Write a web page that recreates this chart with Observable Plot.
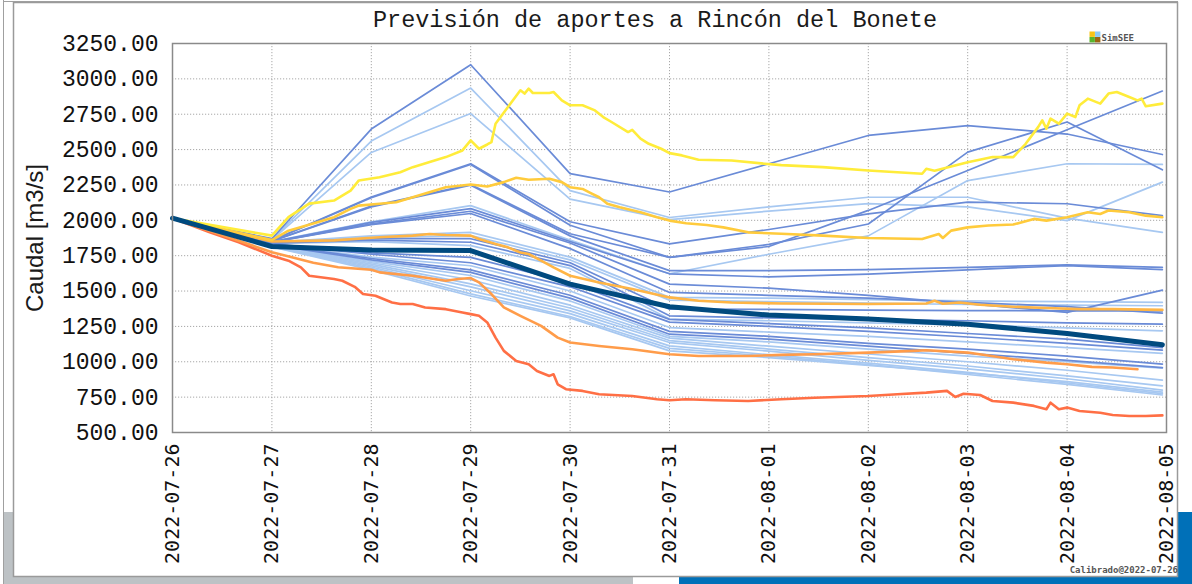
<!DOCTYPE html>
<html><head><meta charset="utf-8">
<script src="https://cdn.jsdelivr.net/npm/d3@7"></script>
<script src="https://cdn.jsdelivr.net/npm/@observablehq/plot@0.6"></script>
<style>html,body{margin:0;padding:0;background:#fff;overflow:hidden}</style>
</head><body><div id="chart"></div>
<script>
// ---- data ----
const titleText = "Previsión de aportes a Rincón del Bonete";
const yLabel = "Caudal [m3/s]";
const calibText = "Calibrado@2022-07-26";
const dayLabels = ["2022-07-26","2022-07-27","2022-07-28","2022-07-29","2022-07-30","2022-07-31","2022-08-01","2022-08-02","2022-08-03","2022-08-04","2022-08-05"];
const yTicks = [500,750,1000,1250,1500,1750,2000,2250,2500,2750,3000,3250];
// hours from 2022-07-26 00:00 of the daily ensemble points
const ensembleHours = [0,24,48,72,96,120,144,168,192,216,239];
const ensembleMedium = [
  [2015,1870,2645,3100,2330,2200,2400,2600,2670,2610,2465],
  [2015,1858,2165,2400,1990,1833,1935,2045,2128,2117,2033],
  [2015,1856,2160,2395,1965,1738,1830,1974,2482,2695,2357],
  [2015,1854,2100,2253,1905,1738,1815,2070,2352,2640,2914],
  [2015,1852,2095,2248,1890,1644,1645,1652,1668,1685,1667],
  [2015,1848,1985,2083,1850,1622,1600,1620,1650,1680,1651],
  [2015,1846,1975,2064,1840,1549,1520,1470,1410,1349,1507],
  [2015,1845,1970,2048,1800,1490,1470,1450,1420,1390,1344],
  [2015,1840,1870,1870,1700,1372,1370,1365,1362,1360,1360],
  [2015,1838,1860,1845,1680,1325,1310,1300,1290,1275,1266],
  [2015,1834,1770,1738,1560,1300,1270,1240,1200,1160,1100],
  [2015,1832,1760,1700,1530,1280,1250,1215,1175,1130,1082],
  [2015,1828,1730,1650,1470,1215,1180,1130,1090,1040,983],
  [2015,1826,1720,1632,1450,1195,1160,1110,1060,1010,959]
];
const ensembleLight = [
  [2015,1866,2560,2935,2210,2020,2095,2163,2163,2015,1915],
  [2015,1862,2480,2755,2150,2005,2065,2118,2095,1998,2270],
  [2015,1850,1990,2104,1860,1622,1760,1890,2281,2400,2395],
  [2015,1844,1890,1915,1740,1455,1450,1440,1430,1425,1420],
  [2015,1842,1880,1892,1720,1436,1425,1415,1405,1400,1396],
  [2015,1836,1850,1821,1660,1302,1290,1275,1260,1240,1219],
  [2015,1830,1740,1679,1500,1242,1210,1180,1140,1100,1060],
  [2015,1824,1710,1610,1430,1180,1140,1090,1040,1000,955],
  [2015,1822,1700,1580,1400,1167,1110,1055,1000,940,870],
  [2015,1820,1690,1551,1380,1150,1090,1030,970,900,830],
  [2015,1818,1680,1530,1360,1136,1075,1010,950,880,799],
  [2015,1816,1670,1502,1340,1112,1050,990,925,850,775],
  [2015,1814,1660,1480,1320,1095,1040,980,910,840,765],
  [2015,1812,1650,1465,1310,1077,1030,975,920,860,785]
];
const medianValues = [2015,1815,1790,1786,1549,1389,1330,1302,1266,1200,1120];

const yellowHours = [0,24,28,33,39,43,45,50,55,58,66,70,72,74,76,77,78,81,84,85,86,87,91,92,94,96,99,102,104,106,110,111,113,115,118,120,123,127,135,143,147,157,168,181,182,184,192,198,203,206,209,210,211,212,214,216,218,219,221,224,226,228,231,233,234,235,239];
const yellowValues = [2015,1892,2022,2118,2140,2210,2282,2305,2340,2376,2447,2494,2565,2506,2536,2553,2683,2801,2919,2896,2931,2900,2900,2907,2848,2813,2813,2777,2730,2695,2624,2640,2577,2541,2506,2475,2459,2428,2423,2400,2390,2376,2352,2329,2364,2350,2411,2447,2447,2541,2659,2707,2648,2719,2683,2754,2730,2813,2860,2825,2896,2907,2872,2848,2860,2806,2825];

const goldHours = [0,24,28,35,39,43,45,50,54,58,62,66,72,76,80,83,86,91,94,96,99,101,103,105,108,113,117,120,124,129,133,139,147,157,168,181,185,186,188,192,197,203,208,211,216,221,224,226,231,235,239];
const goldValues = [2015,1860,1927,1986,2022,2081,2104,2117,2128,2163,2199,2234,2253,2239,2270,2301,2287,2294,2270,2234,2222,2192,2163,2117,2092,2057,2022,1998,1979,1967,1950,1915,1905,1892,1875,1868,1903,1875,1927,1950,1963,1970,2010,1998,2022,2057,2045,2069,2057,2033,2022];

const orangeHours = [0,24,39,50,58,62,66,72,74,78,81,84,86,89,92,96,103,111,120,127,135,147,168,182,184,186,190,195,203,211,219,227,239];
const orangeValues = [2015,1850,1858,1880,1892,1903,1896,1892,1868,1833,1809,1773,1762,1715,1667,1608,1561,1514,1455,1431,1419,1412,1408,1412,1431,1410,1419,1403,1389,1380,1372,1372,1367];

const darkOrangeHours = [0,24,34,40,48,50,58,66,69,72,74,77,80,84,89,93,96,103,111,120,127,139,147,155,168,179,182,192,199,203,211,216,222,227,233];
const darkOrangeValues = [2015,1775,1700,1668,1650,1632,1608,1573,1585,1592,1561,1479,1384,1325,1254,1171,1136,1112,1089,1053,1041,1041,1049,1053,1065,1077,1082,1065,1035,1018,994,983,964,959,947];

const redHours = [0,9,16,24,28,31,33,39,41,44,46,49,53,55,58,61,66,70,72,74,76,78,80,83,86,88,91,92,93,95,99,103,111,117,120,124,131,139,147,155,168,175,182,187,189,191,195,198,203,208,211,212,214,216,219,224,227,231,235,239];
const redValues = [2015,1915,1845,1750,1715,1667,1608,1585,1573,1530,1479,1467,1419,1408,1408,1384,1372,1349,1337,1325,1278,1171,1077,1006,983,935,900,912,841,806,794,770,758,735,728,735,728,723,735,746,758,770,782,794,751,774,765,723,711,688,664,711,664,676,652,640,624,617,617,621];

// ---- build ----
const start = Date.UTC(2022,6,26);
const toDate = h => new Date(start + h*3600e3);
const tickDates = dayLabels.map(s => new Date(s + "T00:00:00Z"));
function rowsFrom(list, prefix){
  const out=[];
  list.forEach((vals,i)=>vals.forEach((v,j)=>out.push({t:toDate(ensembleHours[j]),v,id:prefix+i})));
  return out;
}
const pairs = (hs,vs,id) => hs.map((h,i)=>({t:toDate(h),v:vs[i],id}));
const mediumRows = rowsFrom(ensembleMedium,"m");
const lightRows = rowsFrom(ensembleLight,"l");
const medianRows = pairs(ensembleHours, medianValues, "median");

const plot = Plot.plot({
  width: 1192, height: 584,
  marginLeft: 172, marginRight: 26, marginTop: 43, marginBottom: 152,
  x: {type:"utc", domain:[tickDates[0], tickDates[10]]},
  y: {domain:[500,3250]},
  style: {background:"transparent"},
  marks: [
    Plot.gridX({ticks: tickDates, stroke:"#a8a8a8", strokeOpacity:1, strokeDasharray:"1.2,1.8"}),
    Plot.gridY({ticks: yTicks, stroke:"#a8a8a8", strokeOpacity:1, strokeDasharray:"1.2,1.8"}),
    Plot.line(lightRows, {x:"t", y:"v", z:"id", stroke:"#a7c8f1", strokeWidth:1.7}),
    Plot.line(mediumRows, {x:"t", y:"v", z:"id", stroke:"#6a8bd7", strokeWidth:1.7}),
    Plot.line(pairs(redHours, redValues, "red"), {x:"t", y:"v", stroke:"#ff6f45", strokeWidth:2.6}),
    Plot.line(pairs(darkOrangeHours, darkOrangeValues, "do"), {x:"t", y:"v", stroke:"#ff9c4a", strokeWidth:2.6}),
    Plot.line(pairs(orangeHours, orangeValues, "or"), {x:"t", y:"v", stroke:"#ffb545", strokeWidth:2.6}),
    Plot.line(pairs(goldHours, goldValues, "gold"), {x:"t", y:"v", stroke:"#ffcb3c", strokeWidth:2.6}),
    Plot.line(pairs(yellowHours, yellowValues, "yel"), {x:"t", y:"v", stroke:"#ffec3a", strokeWidth:2.6}),
    Plot.line(medianRows, {x:"t", y:"v", stroke:"#004a7f", strokeWidth:5}),
    Plot.frame({stroke:"#8a8a8a", strokeWidth:1.5}),
    Plot.axisY({ticks: yTicks, tickFormat: d3.format(".2f"), tickSize:0, tickPadding:14, fontSize:23, fontFamily:"Liberation Mono", fill:"#111", label:null}),
    Plot.axisX({ticks: tickDates, tickFormat: d3.utcFormat("%Y-%m-%d"), tickRotate:-90, tickSize:0, tickPadding:11, fontSize:20, fontFamily:"DejaVu Sans Mono", fill:"#111", label:null})
  ]
});

const svg = d3.select(plot);
// background bands and panel (inserted behind)
const bg = svg.insert("g", ":first-child");
bg.append("rect").attr("x",4).attr("y",512).attr("width",629).attr("height",72).attr("fill","#bdc2c5");
bg.append("rect").attr("x",679).attr("y",512).attr("width",513).attr("height",72).attr("fill","#0070b8");
bg.append("line").attr("x1",3.5).attr("x2",3.5).attr("y1",0).attr("y2",584).attr("stroke","#a0a0a0");
bg.append("line").attr("x1",3).attr("x2",1178).attr("y1",1.5).attr("y2",1.5).attr("stroke","#a0a0a0");
bg.append("rect").attr("x",13.5).attr("y",2.5).attr("width",1164).attr("height",574).attr("fill","#fff").attr("stroke","#9a9a9a").attr("stroke-width",1.5);

const fg = svg.append("g").attr("text-anchor","start");
fg.append("text").attr("x",655).attr("y",27).attr("text-anchor","middle")
  .attr("font-family","Liberation Mono").attr("font-size",23.5).attr("fill","#1a1a1a").text(titleText);
fg.append("text").attr("transform","translate(43,238) rotate(-90)").attr("text-anchor","middle")
  .attr("font-family","Liberation Sans").attr("font-size",24).attr("fill","#1a1a1a").text(yLabel);
// SimSEE logo
const lg = fg.append("g");
[["#f6c416",1089.5,31.5],["#8ccaf4",1095,31.5],["#58b52b",1089.5,37],["#9b6611",1095,37]].forEach(([c,x,y])=>
  lg.append("rect").attr("x",x).attr("y",y).attr("width",5.4).attr("height",5.4).attr("fill",c));
lg.append("text").attr("x",1101.5).attr("y",41).attr("text-anchor","start").attr("font-family","DejaVu Sans Mono").attr("font-weight","bold")
  .attr("font-size",9).attr("fill","#555").text("SimSEE");
fg.append("text").attr("x",1178).attr("y",573).attr("text-anchor","end").attr("font-family","DejaVu Sans Mono")
  .attr("font-weight","bold").attr("font-size",9).attr("fill","#555").text(calibText);

document.getElementById("chart").appendChild(plot);
</script></body></html>
